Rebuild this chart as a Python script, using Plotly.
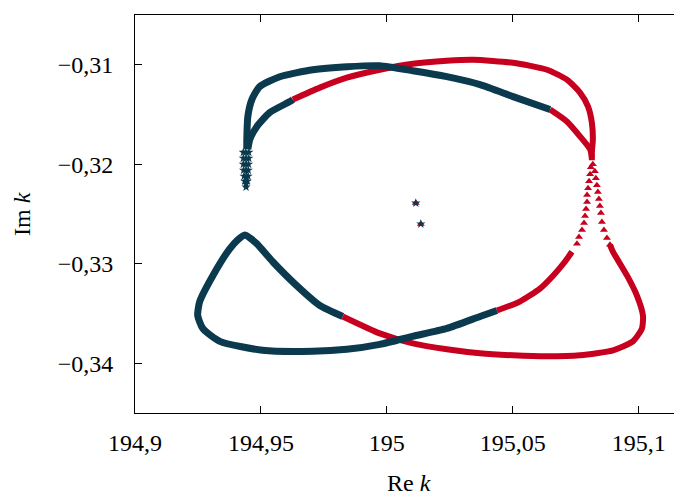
import plotly.graph_objects as go

NAVY = "#0b3a4e"
RED = "#c8001f"

# ---- data (Re k, Im k) ----
navy_a_re = [194.9444, 194.9444, 194.9448, 194.9464, 194.9495, 194.9575, 194.9706, 194.9841,
             194.9972, 195.0103, 195.0238, 195.0370, 195.0501, 195.0648]
navy_a_im = [-0.3185, -0.3175, -0.3152, -0.3135, -0.3122, -0.3112, -0.3105, -0.3102,
             -0.3101, -0.3106, -0.3112, -0.3120, -0.3132, -0.3145]

red_a_top_re = [195.0648, 195.0715, 195.0767, 195.0807, 195.0814]
red_a_top_im = [-0.3145, -0.3157, -0.3172, -0.3185, -0.3193]

red_a_arm_re = [195.0818, 195.0826, 195.0830, 195.0834, 195.0838, 195.0842, 195.0846,
                195.0850, 195.0854, 195.0862, 195.0874, 195.0886]
red_a_arm_im = [-0.3200, -0.3207, -0.3214, -0.3221, -0.3228, -0.3235, -0.3242,
                -0.3249, -0.3258, -0.3266, -0.3274, -0.3281]

red_a_low_re = [195.0886, 195.0898, 195.0954, 195.0993, 195.1017, 195.1013, 195.0977, 195.0898,
                195.0767, 195.0636, 195.0501, 195.0370, 195.0238, 195.0103, 194.9972, 194.9825]
red_a_low_im = [-0.3281, -0.3288, -0.3312, -0.3332, -0.3352, -0.3365, -0.3378, -0.3387,
                -0.3392, -0.3393, -0.3392, -0.3390, -0.3386, -0.3380, -0.3370, -0.3353]

navy_b_re = [194.9825, 194.9734, 194.9642, 194.9547, 194.9484, 194.9456, 194.9436, 194.9408,
             194.9376, 194.9309, 194.9257, 194.9249, 194.9269, 194.9337, 194.9507, 194.9706,
             194.9841, 194.9972, 195.0103, 195.0238, 195.0370, 195.0437]
navy_b_im = [-0.3353, -0.3342, -0.3322, -0.3298, -0.3280, -0.3274, -0.3271, -0.3276,
             -0.3285, -0.3312, -0.3338, -0.3352, -0.3365, -0.3378, -0.3387, -0.3388,
             -0.3386, -0.3381, -0.3373, -0.3365, -0.3353, -0.3347]

red_b_low_re = [195.0437, 195.0528, 195.0608, 195.0660, 195.0707, 195.0735]
red_b_low_im = [-0.3347, -0.3338, -0.3325, -0.3312, -0.3298, -0.3288]

red_b_arm_re = [195.0755, 195.0763, 195.0775, 195.0783, 195.0787, 195.0791, 195.0795,
                195.0795, 195.0799, 195.0803, 195.0807, 195.0810]
red_b_arm_im = [-0.3280, -0.3273, -0.3266, -0.3259, -0.3252, -0.3245, -0.3238,
                -0.3231, -0.3224, -0.3217, -0.3210, -0.3203]

red_b_top_re = [195.0814, 195.0814, 195.0818, 195.0814, 195.0799, 195.0767, 195.0715, 195.0636,
                195.0501, 195.0342, 195.0238, 195.0103, 194.9972, 194.9841, 194.9734, 194.9627]
red_b_top_im = [-0.3196, -0.3188, -0.3175, -0.3158, -0.3142, -0.3128, -0.3115, -0.3105,
                -0.3098, -0.3095, -0.3096, -0.3099, -0.3105, -0.3113, -0.3123, -0.3135]

navy_c_re = [194.9627, 194.9615, 194.9535, 194.9484, 194.9456, 194.9448]
navy_c_im = [-0.3135, -0.3137, -0.3148, -0.3162, -0.3175, -0.3185]

cusp_re = [194.9430, 194.9440, 194.9452, 194.9430, 194.9441, 194.9452, 194.9430, 194.9441,
           194.9451, 194.9431, 194.9441, 194.9450, 194.9433, 194.9442, 194.9449, 194.9436,
           194.9446, 194.9441, 194.9441]
cusp_im = [-0.3188, -0.3188, -0.3188, -0.3194, -0.3194, -0.3194, -0.3200, -0.3200,
           -0.3200, -0.3206, -0.3206, -0.3206, -0.3212, -0.3212, -0.3212, -0.3217,
           -0.3217, -0.3220, -0.3223]

single_re = [195.0115, 195.0135]
single_im = [-0.3239, -0.3260]

x_tickvals = [194.9, 194.95, 195.0, 195.05, 195.1]
x_ticktext = ["194,9", "194,95", "195", "195,05", "195,1"]
y_tickvals = [-0.31, -0.32, -0.33, -0.34]
y_ticktext = ["\u22120,31", "\u22120,32", "\u22120,33", "\u22120,34"]
x_title = "Re <i>k</i>"
y_title = "Im <i>k</i>"

FONT = "Liberation Serif"

fig = go.Figure()


def band(re, im, color, width=6):
    fig.add_trace(go.Scatter(x=re, y=im, mode="lines",
                             line=dict(color=color, width=width, shape="spline", smoothing=0.6),
                             hoverinfo="skip", showlegend=False))


def pts(re, im, color, symbol, size):
    fig.add_trace(go.Scatter(x=re, y=im, mode="markers",
                             marker=dict(color=color, symbol=symbol, size=size, line=dict(width=0)),
                             hoverinfo="skip", showlegend=False))


# red first (navy drawn on top)
band(red_a_top_re, red_a_top_im, RED)
pts(red_a_arm_re, red_a_arm_im, RED, "triangle-up", 7)
band(red_a_low_re, red_a_low_im, RED)
band(red_b_low_re, red_b_low_im, RED)
pts(red_b_arm_re, red_b_arm_im, RED, "triangle-up", 7)
band(red_b_top_re, red_b_top_im, RED)
pts(single_re, single_im, RED, "triangle-up", 7)

band(navy_a_re, navy_a_im, NAVY, 7)
band(navy_b_re, navy_b_im, NAVY, 7)
band(navy_c_re, navy_c_im, NAVY, 7)
pts(cusp_re, cusp_im, NAVY, "star", 7)
pts(single_re, single_im, NAVY, "star", 7)

# page body has an 8 px margin: figure is 674x490 so it fits the 682x498 window
fig.update_layout(
    width=674, height=490,
    margin=dict(l=127, r=0, t=7, b=85),
    paper_bgcolor="white", plot_bgcolor="white",
    font=dict(family=FONT, size=24, color="black"),
    xaxis=dict(range=[194.9, 195.1172], tickvals=x_tickvals, ticktext=x_ticktext,
               ticks="inside", ticklen=7, tickcolor="black", tickwidth=1,
               showline=True, linecolor="black", linewidth=1, mirror="ticks",
               showgrid=False, zeroline=False, automargin=False, ticklabelstandoff=8),
    yaxis=dict(range=[-0.345, -0.305], tickvals=y_tickvals, ticktext=y_ticktext,
               ticks="inside", ticklen=7, tickcolor="black", tickwidth=1,
               showline=True, linecolor="black", linewidth=1, mirror=False,
               showgrid=False, zeroline=False, ticklabelstandoff=16, automargin=False),
    annotations=[
        dict(text=x_title, xref="paper", yref="paper", x=0.5, y=0,
             xanchor="center", yanchor="middle", yshift=-70, showarrow=False,
             font=dict(family=FONT, size=24)),
        dict(text=y_title, xref="paper", yref="paper", x=0, y=0.5,
             xanchor="center", yanchor="middle", xshift=-113, textangle=-90,
             showarrow=False, font=dict(family=FONT, size=24)),
    ],
)

fig.write_html("out.html")
